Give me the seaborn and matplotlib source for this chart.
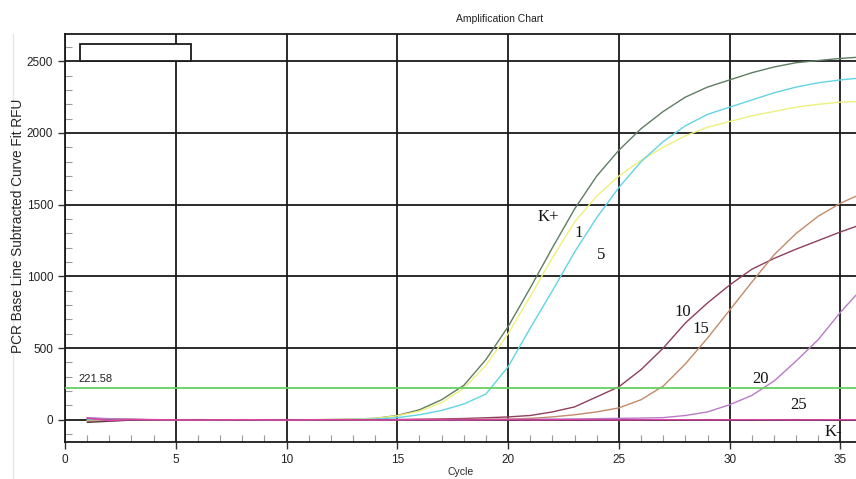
import numpy as np
import pandas as pd
import matplotlib
matplotlib.use("Agg")
import matplotlib.pyplot as plt
import seaborn as sns
from matplotlib.patches import Rectangle
from matplotlib.lines import Line2D
from matplotlib.ticker import MultipleLocator

cycles = list(range(1, 37))

# values (RFU)
kpos = [5, 3, 2, 1, 0, 0, 0, 0, 0, 0, 0, 2, 5, 10, 30, 70, 140, 240, 420, 650, 920, 1200,
        1470, 1700, 1880, 2030, 2150, 2250, 2320, 2370, 2420, 2460, 2490, 2505, 2520, 2530]
s1 = [-5, -3, 0, 0, 0, 0, 0, 0, 0, 0, 0, 2, 5, 10, 28, 60, 120, 220, 380, 600, 860, 1130,
      1380, 1560, 1700, 1810, 1900, 1980, 2040, 2080, 2120, 2150, 2180, 2200, 2215, 2220]
s5 = [0, 2, 0, 0, 0, 0, 0, 0, 0, 0, 0, 0, 2, 5, 15, 35, 65, 110, 180, 370, 640, 900,
      1170, 1410, 1620, 1800, 1940, 2050, 2130, 2180, 2230, 2280, 2320, 2350, 2370, 2385]
s10 = [10, 5, 3, 0, 0, 0, 0, 0, 0, 0, 0, 0, 0, 0, 2, 4, 6, 9, 14, 20, 30, 55,
       90, 160, 230, 350, 500, 675, 815, 940, 1050, 1125, 1190, 1250, 1310, 1365]
s15 = [-10, -8, 0, 0, 0, 0, 0, 0, 0, 0, 0, 0, 0, 0, 0, 1, 2, 3, 4, 5, 10, 20,
       35, 55, 83, 140, 235, 390, 570, 765, 960, 1150, 1300, 1420, 1510, 1580]
s20 = [15, 8, 2, 0, 0, 0, 0, 0, 0, 0, 0, 0, 0, 0, 0, 0, 0, 1, 2, 3, 4, 5,
       6, 8, 10, 12, 15, 30, 55, 105, 170, 270, 410, 560, 750, 920]
s25 = [-18, -10, -2, 0, 0, 1, 0, -1, 0, 1, 0, -1, 0, 1, 0, -1, 0, 1, 0, -1, 1, 0,
       -1, 0, 1, 0, -1, 0, 1, 0, -1, 0, 1, 0, -1, 0]
kneg = [12, -6, 2, 1, 0, -1, 0, 1, 0, -1, 0, 1, 0, -1, 0, 1, 0, -1, 0, 1, -1, 0,
        1, 0, -1, 0, 1, 0, -1, 0, 1, 0, -1, 0, 1, 0]

names = ["K+", "1", "5", "10", "15", "20", "25", "K-"]
series = [kpos, s1, s5, s10, s15, s20, s25, kneg]
colors = ["#5f7d62", "#eef07c", "#62d4e4", "#8e3f5c", "#c28a6a", "#b97ac6", "#5a3848", "#e044a8"]

threshold = 221.58
threshold_label = "221.58"

df = pd.DataFrame({
    "Cycle": np.tile(cycles, len(names)),
    "RFU": np.concatenate(series),
    "Sample": np.repeat(names, len(cycles)),
})

sns.set_style("white")
plt.rcParams["font.family"] = ["Liberation Sans", "DejaVu Sans"]

fig = plt.figure(figsize=(8.56, 4.79), dpi=100)
ax = fig.add_axes([0.0759, 0.0772, 0.9241, 0.8518])

ax.grid(True, which="major", color="#1a1a1a", linewidth=1.3)
ax.set_axisbelow(True)

sns.lineplot(data=df, x="Cycle", y="RFU", hue="Sample", hue_order=names,
             palette=dict(zip(names, colors)), linewidth=1.0, legend=False, ax=ax,
             estimator=None, sort=False)

ax.axhline(threshold, color="#66d060", linewidth=1.3, zorder=3)
ax.text(0.6, threshold + 25, threshold_label, fontsize=8, color="#222222", va="bottom")

# empty legend placeholder box
ax.add_patch(Rectangle((0.68, 2500), 5.0, 118, facecolor="white", edgecolor="#1a1a1a",
                       linewidth=1.3, zorder=4))

ax.set_xlim(0, 35.7)
ax.set_ylim(-155, 2690)
ax.xaxis.set_major_locator(MultipleLocator(5))
ax.xaxis.set_minor_locator(MultipleLocator(1))
ax.yaxis.set_major_locator(MultipleLocator(500))
ax.yaxis.set_minor_locator(MultipleLocator(100))
ax.tick_params(axis="both", which="major", direction="out", length=5, width=1,
               labelsize=8.5, color="#333333", labelcolor="#222222", left=True, bottom=True)
ax.tick_params(axis="both", which="minor", direction="in", length=5, width=0.8,
               color="#999999", left=True, bottom=True)
for s in ax.spines.values():
    s.set_color("#1a1a1a")
    s.set_linewidth(1.3)
ax.spines["right"].set_visible(False)

ax.set_xlabel("Cycle", fontsize=7.5, labelpad=1)
ax.set_ylabel("PCR Base Line Subtracted Curve Fit RFU", fontsize=9.8)
ax.yaxis.set_label_coords(-0.051, 0.529)
fig.text(0.584, 0.955, "Amplification Chart", fontsize=7.5, ha="center", color="#222222")

# faint left border of the original screenshot
fig.add_artist(Line2D([0.015, 0.015], [0.0, 0.93], transform=fig.transFigure,
                      color="#e6e6e6", linewidth=1.0, zorder=-1))

lab_font = dict(family=["Liberation Serif", "DejaVu Serif"], fontsize=12, color="#111111")
labels = [("K+", 21.8, 1413), ("1", 23.2, 1300), ("5", 24.2, 1150), ("10", 27.9, 755),
          ("15", 28.7, 630), ("20", 31.4, 285), ("25", 33.1, 100), ("K-", 34.7, -85)]
for t, x, y in labels:
    ax.text(x, y, t, ha="center", va="center", zorder=5, **lab_font)

fig.savefig("out.png", dpi=100)
